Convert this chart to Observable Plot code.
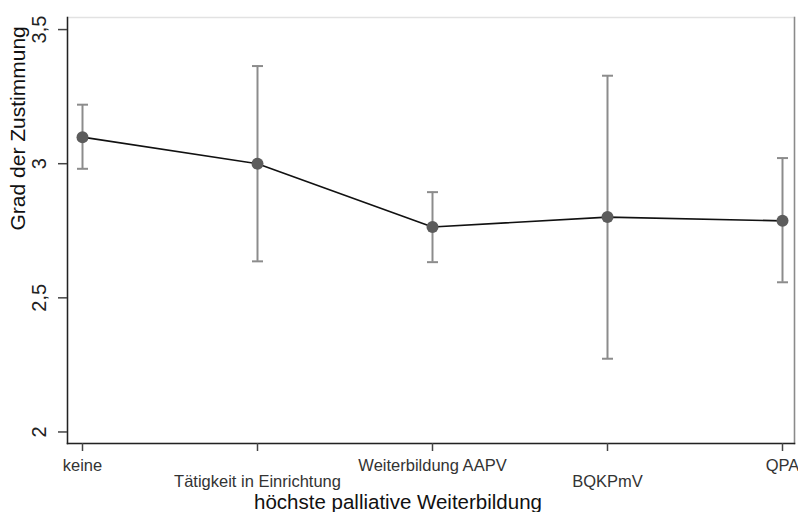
<!DOCTYPE html>
<html>
<head>
<meta charset="utf-8">
<script src="https://cdn.jsdelivr.net/npm/d3@7"></script>
<script src="https://cdn.jsdelivr.net/npm/@observablehq/plot@0.6"></script>
<style>
  body { margin: 0; background: #fff; }
  #chart svg { display: block; font-family: "Liberation Sans", Arial, sans-serif; overflow: visible; }
</style>
</head>
<body>
<div id="chart"></div>
<script>
const categories = ["keine", "Tätigkeit in Einrichtung", "Weiterbildung AAPV", "BQKPmV", "QPA"];
const means = [3.099, 3.000, 2.764, 2.801, 2.787];
const lower = [2.981, 2.636, 2.633, 2.273, 2.558];
const upper = [3.220, 3.364, 2.894, 3.328, 3.021];
const yTicks = [2, 2.5, 3, 3.5];
const xTitle = "höchste palliative Weiterbildung";
const yTitle = "Grad der Zustimmung";

const data = categories.map((c, i) => ({cat: c, mean: means[i], lo: lower[i], hi: upper[i]}));

const capSymbol = {
  draw(context) { context.moveTo(-5.5, 0); context.lineTo(5.5, 0); }
};

const fmt = d => String(d).replace(".", ",");

const chart = Plot.plot({
  width: 798,
  height: 512,
  marginLeft: 67,
  marginRight: 4,
  marginTop: 17,
  marginBottom: 69,
  style: {fontFamily: "Liberation Sans, Arial, sans-serif", background: "#fff"},
  x: {type: "point", domain: categories, insetLeft: 13.5, insetRight: 11, padding: 0},
  y: {domain: [1.957, 3.545]},
  marks: [
    Plot.frame({stroke: "#e2e2e2", strokeWidth: 1.5}),
    Plot.frame({anchor: "right", stroke: "#8a8a8a", strokeWidth: 1.5}),
    Plot.frame({anchor: "left", stroke: "#222", strokeWidth: 1.5}),
    Plot.frame({anchor: "bottom", stroke: "#222", strokeWidth: 1.5}),
    Plot.axisY({ticks: yTicks, tickFormat: fmt, tickSize: 9, stroke: "#444", strokeWidth: 1.5,
      fill: "none", label: null}),
    Plot.axisY({ticks: yTicks, tickFormat: fmt, tickSize: 0, tickPadding: 28,
      fontSize: 20, fill: "#222", rotate: -90, textAnchor: "middle", label: null}),
    Plot.axisX({ticks: categories.filter((_, i) => i % 2 === 0), tickSize: 8, tickPadding: 8,
      fontSize: 16.5, fill: "#333", stroke: "#444", strokeWidth: 1.5, label: null}),
    Plot.axisX({ticks: categories.filter((_, i) => i % 2 === 1), tickSize: 8, tickPadding: 24,
      fontSize: 16.5, fill: "#333", stroke: "#444", strokeWidth: 1.5, label: null}),
    Plot.text([xTitle], {frameAnchor: "bottom", dx: -33, dy: 65, fontSize: 20.5, fill: "#111"}),
    Plot.text([yTitle], {frameAnchor: "left", dx: -49, rotate: -90, fontSize: 21, fill: "#111"}),
    Plot.ruleX(data, {x: "cat", y1: "lo", y2: "hi", stroke: "#8c8c8c", strokeWidth: 2}),
    Plot.dot(data, {x: "cat", y: "lo", symbol: capSymbol, stroke: "#8c8c8c", strokeWidth: 2, fill: "none"}),
    Plot.dot(data, {x: "cat", y: "hi", symbol: capSymbol, stroke: "#8c8c8c", strokeWidth: 2, fill: "none"}),
    Plot.line(data, {x: "cat", y: "mean", stroke: "#111", strokeWidth: 1.6}),
    Plot.dot(data, {x: "cat", y: "mean", r: 6, fill: "#5c5c5c", stroke: "none"})
  ]
});
document.getElementById("chart").appendChild(chart);
</script>
</body>
</html>
